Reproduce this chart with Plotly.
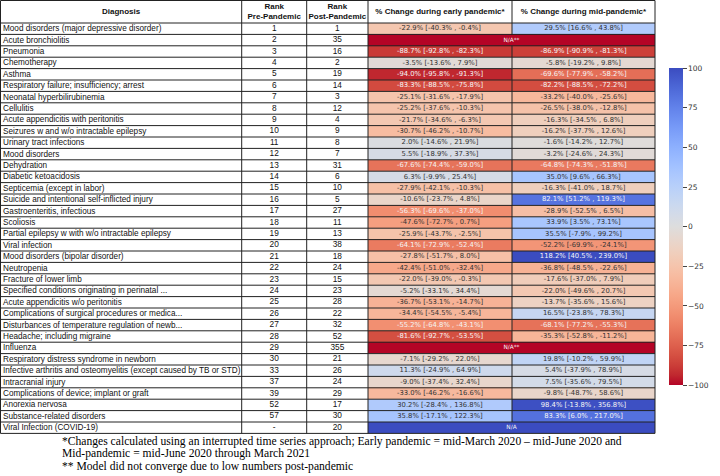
import plotly.graph_objects as go

# ---------------- data ----------------
diagnoses = [
    "Mood disorders (major depressive disorder)", "Acute bronchiolitis", "Pneumonia", "Chemotherapy",
    "Asthma", "Respiratory failure; insufficiency; arrest", "Neonatal hyperbilirubinemia", "Cellulitis",
    "Acute appendicitis with peritonitis", "Seizures w and w/o intractable epilepsy", "Urinary tract infections",
    "Mood disorders", "Dehydration", "Diabetic ketoacidosis", "Septicemia (except in labor)",
    "Suicide and intentional self-inflicted injury", "Gastroenteritis, infectious", "Scoliosis",
    "Partial epilepsy w with w/o intractable epilepsy", "Viral infection", "Mood disorders (bipolar disorder)",
    "Neutropenia", "Fracture of lower limb", "Specified conditions originating in perinatal ...",
    "Acute appendicitis w/o peritonitis", "Complications of surgical procedures or medica...",
    "Disturbances of temperature regulation of newb...", "Headache; including migraine", "Influenza",
    "Respiratory distress syndrome in newborn",
    "Infective arthritis and osteomyelitis (except caused by TB or STD)", "Intracranial injury",
    "Complications of device; implant or graft", "Anorexia nervosa", "Substance-related disorders",
    "Viral Infection (COVID-19)",
]
rank_pre = ["1", "2", "3", "4", "5", "6", "7", "8", "9", "10", "11", "12", "13", "14", "15", "16", "17", "18",
            "19", "20", "21", "22", "23", "24", "25", "26", "27", "28", "29", "30", "33", "37", "39", "52", "57", "-"]
rank_post = ["1", "35", "16", "2", "19", "14", "3", "12", "4", "9", "8", "7", "31", "6", "10", "5", "27", "11",
             "13", "38", "18", "24", "15", "23", "28", "22", "32", "52", "355", "21", "26", "24", "29", "17", "30", "20"]

early_pct = [-22.9, None, -88.7, -3.5, -94.0, -83.3, -25.1, -25.2, -21.7, -30.7, 2.0, 5.5, -67.6, 6.3, -27.9,
             -10.6, -56.3, -47.6, -25.9, -64.1, -27.8, -42.4, -22.0, -5.2, -36.7, -34.4, -55.2, -81.6, None,
             -7.1, 11.3, -9.0, -33.0, 30.2, 35.8, None]
early_lo = [-40.3, None, -92.8, -13.6, -95.8, -88.5, -31.6, -37.6, -34.6, -46.2, -14.6, -18.9, -74.4, -9.9, -42.1,
            -23.7, -69.6, -72.7, -43.7, -72.9, -51.7, -51.0, -39.0, -33.1, -53.1, -54.5, -64.8, -92.7, None,
            -29.2, -24.9, -37.4, -46.2, -28.4, -17.1, None]
early_hi = [-0.4, None, -82.3, 7.9, -91.3, -75.8, -17.9, -10.3, -6.3, -10.7, 21.9, 37.3, -59.0, 25.4, -10.3,
            4.8, -37.0, 0.7, -2.5, -52.4, 8.0, -32.4, -0.3, 34.4, -14.7, -5.4, -43.1, -53.5, None,
            22.0, 64.9, 32.4, -16.6, 136.8, 122.3, None]

mid_pct = [29.5, None, -86.9, -5.8, -69.6, -82.2, -33.2, -26.5, -16.3, -16.2, -1.6, -3.2, -64.8, 35.0, -16.3,
           82.1, -28.9, 33.9, 35.5, -52.2, 118.2, -36.8, -17.6, -22.0, -13.7, 16.5, -68.1, -35.3, None,
           19.8, 5.4, 7.5, -9.8, 98.4, 83.3, None]
mid_lo = [16.6, None, -90.9, -19.2, -77.9, -88.5, -40.0, -38.0, -34.5, -37.7, -14.2, -24.6, -74.3, 9.6, -41.0,
          51.2, -52.5, 3.5, -7.9, -69.9, 40.5, -48.5, -37.0, -49.6, -35.6, -23.8, -77.2, -52.8, None,
          -10.2, -37.9, -35.6, -48.7, -13.8, 6.0, None]
mid_hi = [43.8, None, -81.3, 9.8, -58.2, -72.2, -25.6, -12.8, 6.8, 12.6, 12.7, 24.3, -51.8, 66.3, 18.7,
          119.3, 6.5, 73.1, 99.2, -24.1, 239.0, -22.6, 7.9, 20.7, 15.6, 78.3, -55.3, -11.2, None,
          59.9, 78.9, 79.5, 58.6, 356.8, 217.0, None]

na_rows = ["Acute bronchiolitis", "Influenza", "Viral Infection (COVID-19)"]
na_labels = ["N/A**", "N/A**", "N/A"]
na_fill = [-100, -100, 100]

col_headers = ["Diagnosis", "Rank<br>Pre-Pandemic", "Rank<br>Post-Pandemic",
               "% Change during early pandemic*", "% Change during mid-pandemic*"]
cbar_ticks = [-100, -75, -50, -25, 0, 25, 50, 75, 100]

footnotes = [
    "*Changes calculated using an interrupted time series approach; Early pandemic = mid-March 2020 \u2013 mid-June 2020 and",
    "Mid-pandemic = mid-June 2020 through March 2021",
    "** Model did not converge due to low numbers post-pandemic",
]

# coolwarm (Moreland) table, blue -> grey -> red
coolwarm = [
    (59, 76, 192), (68, 90, 204), (77, 104, 215), (87, 117, 225), (98, 130, 234), (108, 142, 241),
    (119, 154, 247), (130, 165, 251), (141, 176, 254), (152, 185, 255), (163, 194, 255), (174, 201, 253),
    (184, 208, 249), (194, 213, 244), (204, 217, 238), (213, 219, 230), (221, 221, 221), (229, 216, 209),
    (236, 211, 197), (241, 204, 184), (245, 196, 172), (247, 187, 160), (247, 177, 148), (247, 166, 135),
    (244, 154, 123), (241, 141, 111), (236, 127, 99), (229, 112, 88), (222, 96, 77), (213, 80, 66),
    (203, 62, 56), (192, 40, 47), (180, 4, 38),
]

# ---------------- layout constants ----------------
W, H = 720, 476
col_edges = [0.5, 241.7, 306.7, 368.0, 512.0, 655.0]
top = 0.5
header_bottom = 23.0
row_h = 11.4
n = len(diagnoses)
row_edges = [header_bottom + i * row_h for i in range(n + 1)]
row_centers = [header_bottom + (i + 0.5) * row_h for i in range(n)]
col_centers = [(col_edges[i] + col_edges[i + 1]) / 2 for i in range(5)]
line_col = "#222222"
cell_font = "DejaVu Sans"
table_font = "Liberation Sans"

# colorscale reversed: -100 (red) -> 100 (blue)
rev = coolwarm[::-1]
colorscale = [[i / (len(rev) - 1), "rgb(%d,%d,%d)" % c] for i, c in enumerate(rev)]

# heatmap z
z = []
for i, d in enumerate(diagnoses):
    if d in na_rows:
        v = na_fill[na_rows.index(d)]
        z.append([v, v])
    else:
        z.append([early_pct[i], mid_pct[i]])

fig = go.Figure()
fig.add_trace(go.Heatmap(
    z=z, x=col_edges[3:6], y=row_edges, zmin=-100, zmax=100, colorscale=colorscale,
    hoverinfo="skip",
    colorbar=dict(
        x=669 / W, xanchor="left", xpad=0, y=1 - 226.7 / H, yanchor="middle", ypad=0,
        len=316.8 / H, lenmode="fraction", thickness=14, outlinewidth=0,
        tickvals=cbar_ticks, ticks="outside", ticklen=4, tickcolor="#444",
        tickfont=dict(family=cell_font, size=7.5, color="#333"),
    ),
))

# grid lines
gx, gy = [], []
for yv in [top] + row_edges:
    gx += [col_edges[0], col_edges[-1], None]
    gy += [yv, yv, None]
for ci, xv in enumerate(col_edges):
    if ci == 4:
        gx += [xv, xv, None]
        gy += [top, header_bottom, None]
        for i, d in enumerate(diagnoses):
            if d not in na_rows:
                gx += [xv, xv, None]
                gy += [row_edges[i], row_edges[i + 1], None]
    else:
        gx += [xv, xv, None]
        gy += [top, row_edges[-1], None]
fig.add_trace(go.Scatter(x=gx, y=gy, mode="lines", line=dict(color=line_col, width=1),
                         hoverinfo="skip", showlegend=False))

# header text
fig.add_trace(go.Scatter(
    x=col_centers, y=[(top + header_bottom) / 2 + 0.5] * 5, mode="text",
    text=["<b>%s</b>" % h for h in col_headers], textposition="middle center",
    textfont=dict(family=table_font, size=8, color="#111"), hoverinfo="skip", showlegend=False))

# rank text
fig.add_trace(go.Scatter(
    x=[col_centers[1]] * n + [col_centers[2]] * n, y=row_centers + row_centers, mode="text",
    text=rank_pre + rank_post, textposition="middle center",
    textfont=dict(family=table_font, size=8.3, color="#111"), hoverinfo="skip", showlegend=False))

# diagnosis text (left aligned)
for i, d in enumerate(diagnoses):
    fig.add_annotation(x=col_edges[0] + 0.5, y=row_centers[i], text=d, showarrow=False, xanchor="left",
                       yanchor="middle", xref="x", yref="y",
                       font=dict(family=table_font, size=8.2, color="#111"))

# value text
dark_x, dark_y, dark_t, light_x, light_y, light_t = [], [], [], [], [], []
na_x, na_y, na_t = [], [], []
for i, d in enumerate(diagnoses):
    if d in na_rows:
        na_x.append((col_edges[3] + col_edges[5]) / 2)
        na_y.append(row_centers[i])
        na_t.append(na_labels[na_rows.index(d)])
        continue
    for ci, (p, lo, hi) in enumerate([(early_pct[i], early_lo[i], early_hi[i]),
                                      (mid_pct[i], mid_lo[i], mid_hi[i])]):
        t = "%.1f%% [%.1f%% , %.1f%%]" % (p, lo, hi)
        if abs(p) > 53:
            light_x.append(col_centers[3 + ci]); light_y.append(row_centers[i]); light_t.append(t)
        else:
            dark_x.append(col_centers[3 + ci]); dark_y.append(row_centers[i]); dark_t.append(t)
fig.add_trace(go.Scatter(x=dark_x, y=dark_y, text=dark_t, mode="text", textposition="middle center",
                         textfont=dict(family=cell_font, size=6.8, color="#333"),
                         hoverinfo="skip", showlegend=False))
fig.add_trace(go.Scatter(x=light_x, y=light_y, text=light_t, mode="text", textposition="middle center",
                         textfont=dict(family=cell_font, size=6.8, color="#f4f4f4"),
                         hoverinfo="skip", showlegend=False))
fig.add_trace(go.Scatter(x=na_x, y=na_y, text=na_t, mode="text", textposition="middle center",
                         textfont=dict(family=cell_font, size=5.8, color="#f4f4f4"),
                         hoverinfo="skip", showlegend=False))

# footnotes
for k, f in enumerate(footnotes):
    fig.add_annotation(x=61, y=441.3 + k * 12.4, text=f, showarrow=False, xanchor="left", yanchor="middle",
                       xref="x", yref="y", borderpad=0,
                       font=dict(family="Liberation Serif", size=11.6, color="#000"))

fig.update_layout(
    width=W, height=H, margin=dict(l=0, r=0, t=0, b=0), plot_bgcolor="white", paper_bgcolor="white",
    xaxis=dict(range=[0, W], visible=False, fixedrange=True),
    yaxis=dict(range=[H, 0], visible=False, fixedrange=True),
    showlegend=False,
)
fig.write_html("out.html", config={"displayModeBar": False},
               post_script="document.body.style.margin='0px';")
